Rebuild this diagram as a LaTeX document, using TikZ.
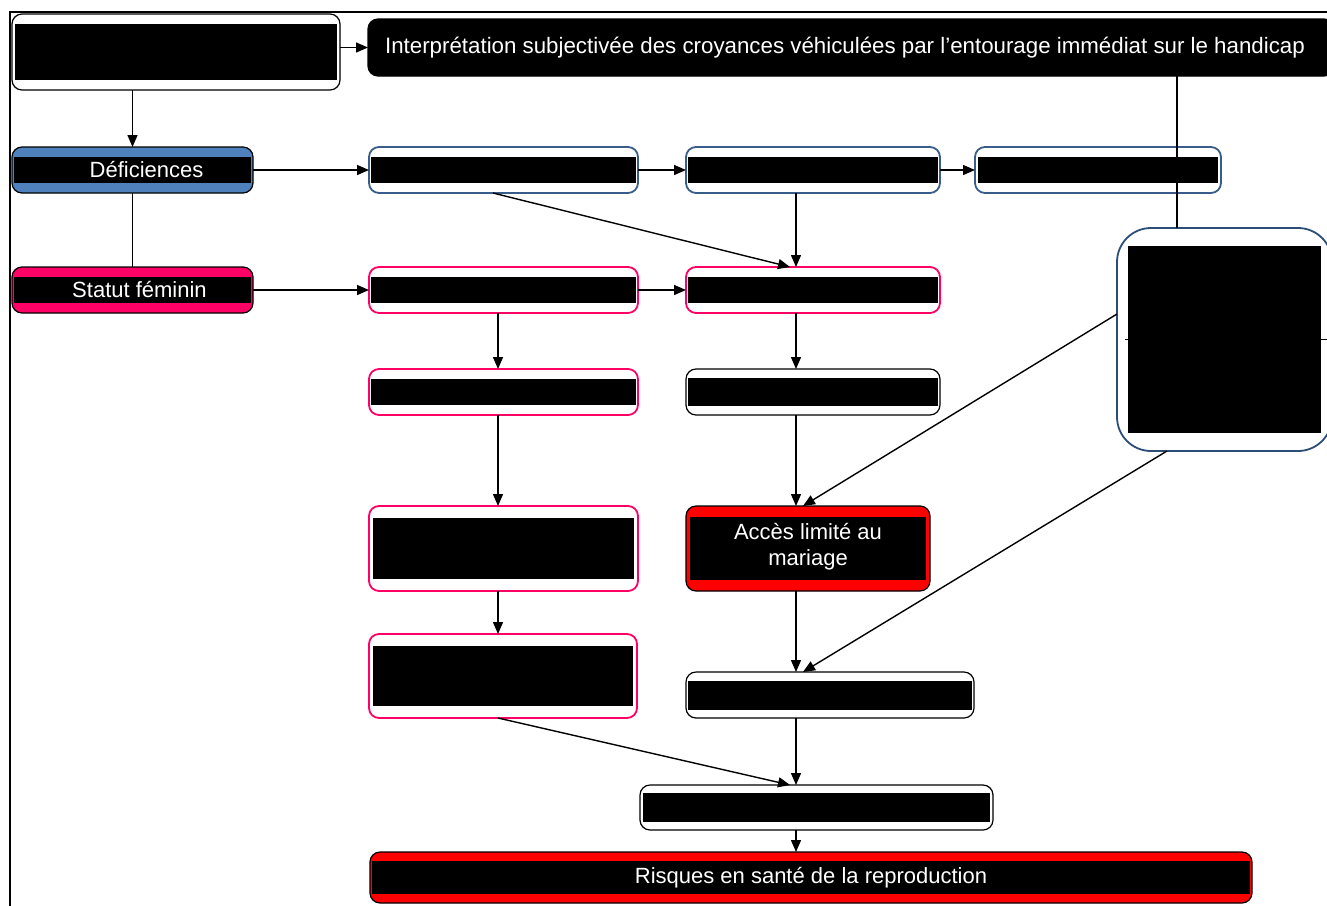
\documentclass[tikz,border=0pt]{standalone}
\usepackage{fontspec}
\setmainfont{Liberation Sans}
\usetikzlibrary{arrows.meta}
\definecolor{boxblue}{HTML}{385D8A}
\definecolor{rimblue}{HTML}{2C4D75}
\definecolor{fillblue}{HTML}{4F81BD}
\definecolor{inkpink}{HTML}{FF0066}
\definecolor{inkred}{HTML}{FF0000}

\begin{document}
\begin{tikzpicture}[x=0.5pt, y=-0.5pt,
  font=\fontsize{11}{13}\selectfont,
  box/.style={draw, fill=white, rounded corners=5pt, line width=0.9pt, inner sep=0pt, outer sep=0pt,
    minimum height=23pt, align=center},
  bar/.style 2 args={path picture={\fill[black, sharp corners] ([shift={(#1,-#2)}]path picture bounding box.north west)
    rectangle ([shift={(-#1,#2)}]path picture bounding box.south east);}},
  blu/.style={box, draw=boxblue},
  pnk/.style={box, draw=inkpink},
  plain/.style={box, draw=black, line width=0.6pt},
  solid/.style={box, draw=black, line width=0.6pt, text=white, fill=#1},
  arr/.style={-{Triangle[length=6pt,width=5pt]}, line width=0.7pt},
  lin/.style={line width=0.7pt}]
\useasboundingbox (0,0) rectangle (1327,905);
\clip (0,0) rectangle (1327,905);
\draw[line width=1.2pt] (10,12) rectangle (1340,920);
\coordinate (lft) at (498,0);
\coordinate (mid) at (796,0);
\coordinate (rgt) at (1177,0);

\node[plain, bar={1.5pt}{5pt}, minimum width=164pt, minimum height=38pt] (src) at (176,52) {};
\node[solid=black, minimum width=483pt, minimum height=28.5pt, font=\fontsize{11.15}{13}\selectfont,
  text depth=2pt] (interp) at (851,47.5)
  {Interprétation subjectivée des croyances véhiculées par l’entourage immédiat sur le handicap\hspace*{6pt}};
\node[solid=fillblue, bar={1pt}{5pt}, minimum width=120.5pt] (def) at (132.5,170) {\hspace*{14pt}Déficiences};
\node[solid=inkpink, bar={1pt}{5pt}, minimum width=120.5pt] (fem) at (132.5,290) {\hspace*{7pt}Statut féminin};
\node[blu, bar={1pt}{5pt}, minimum width=134.5pt] (b1) at (503.5,170) {};
\node[blu, bar={1pt}{5pt}, minimum width=127pt] (b2) at (813,170) {};
\node[blu, bar={1.5pt}{5pt}, minimum width=123pt] (b3) at (1098,170) {};
\node[box, draw=rimblue, rounded corners=17pt, bar={5.5pt}{9pt}, minimum width=107.5pt,
  minimum height=111.5pt] (ctx) at (1224.5,339.5) {};
\node[pnk, bar={1pt}{5pt}, minimum width=134.5pt] (p1) at (503.5,290) {};
\node[pnk, bar={1pt}{5pt}, minimum width=127pt] (p2) at (813,290) {};
\node[pnk, bar={1pt}{5pt}, minimum width=134.5pt] (p3) at (503.5,392) {};
\node[plain, bar={1pt}{4.5pt}, minimum width=127pt] (w1) at (813,392) {};
\node[pnk, bar={2pt}{6pt}, minimum width=134.5pt, minimum height=42.5pt] (p4) at (503.5,548.5) {};
\node[solid=inkred, bar={2pt}{5.5pt}, minimum width=122pt, minimum height=42.5pt] (mar) at (808,548.5)
  {Accès limité au\\mariage\\[-9pt]};
\node[pnk, bar={2pt}{6pt}, minimum width=134pt, minimum height=42pt] (p5) at (503,676) {};
\node[plain, bar={1pt}{4.25pt}, minimum width=144pt] (w2) at (830,695) {};
\node[plain, bar={1.5pt}{4pt}, minimum width=176.5pt, minimum height=22.5pt] (w3) at (816.5,807.5) {};
\node[solid=inkred, bar={1pt}{4.5pt}, minimum width=441pt, minimum height=25.5pt] (risk) at (811,877.5)
  {Risques en santé de la reproduction};

\draw[arr] (src.east |- interp.west) -- (interp.west);
\draw[arr] (def.north |- src.south) -- (def.north);
\draw[lin] (def) -- (fem);
\draw[arr] (def) -- (b1);
\draw[arr] (b1) -- (b2);
\draw[arr] (b2) -- (b3);
\draw[arr] (fem) -- (p1);
\draw[arr] (p1) -- (p2);
\draw[lin] (rgt |- interp.south) -- (rgt |- ctx.north);
\draw[lin] ([xshift=4pt]ctx.west) -- (ctx.east);
\draw[arr] (mid |- b2.south) -- (mid |- p2.north);
\draw[arr] ([xshift=-5.25pt]b1.south) -- ([xshift=-11.5pt]p2.north);
\draw[arr] (lft |- p1.south) -- (lft |- p3.north);
\draw[arr] (lft |- p3.south) -- (lft |- p4.north);
\draw[arr] (lft |- p4.south) -- (lft |- p5.north);
\draw[arr] (mid |- p2.south) -- (mid |- w1.north);
\draw[arr] (mid |- w1.south) -- (mid |- mar.north);
\draw[arr] ([yshift=12.75pt]ctx.west) -- ([xshift=-2.5pt]mar.north);
\draw[arr] (mid |- mar.south) -- (mid |- w2.north);
\draw[arr] ([xshift=-28.75pt]ctx.south) -- ([xshift=-13.5pt]w2.north);
\draw[arr] (mid |- w2.south) -- (mid |- w3.north);
\draw[arr] ([xshift=-2.5pt]p5.south) -- ([xshift=-13.25pt]w3.north);
\draw[arr] (mid |- w3.south) -- (mid |- risk.north);
\end{tikzpicture}
\end{document}
